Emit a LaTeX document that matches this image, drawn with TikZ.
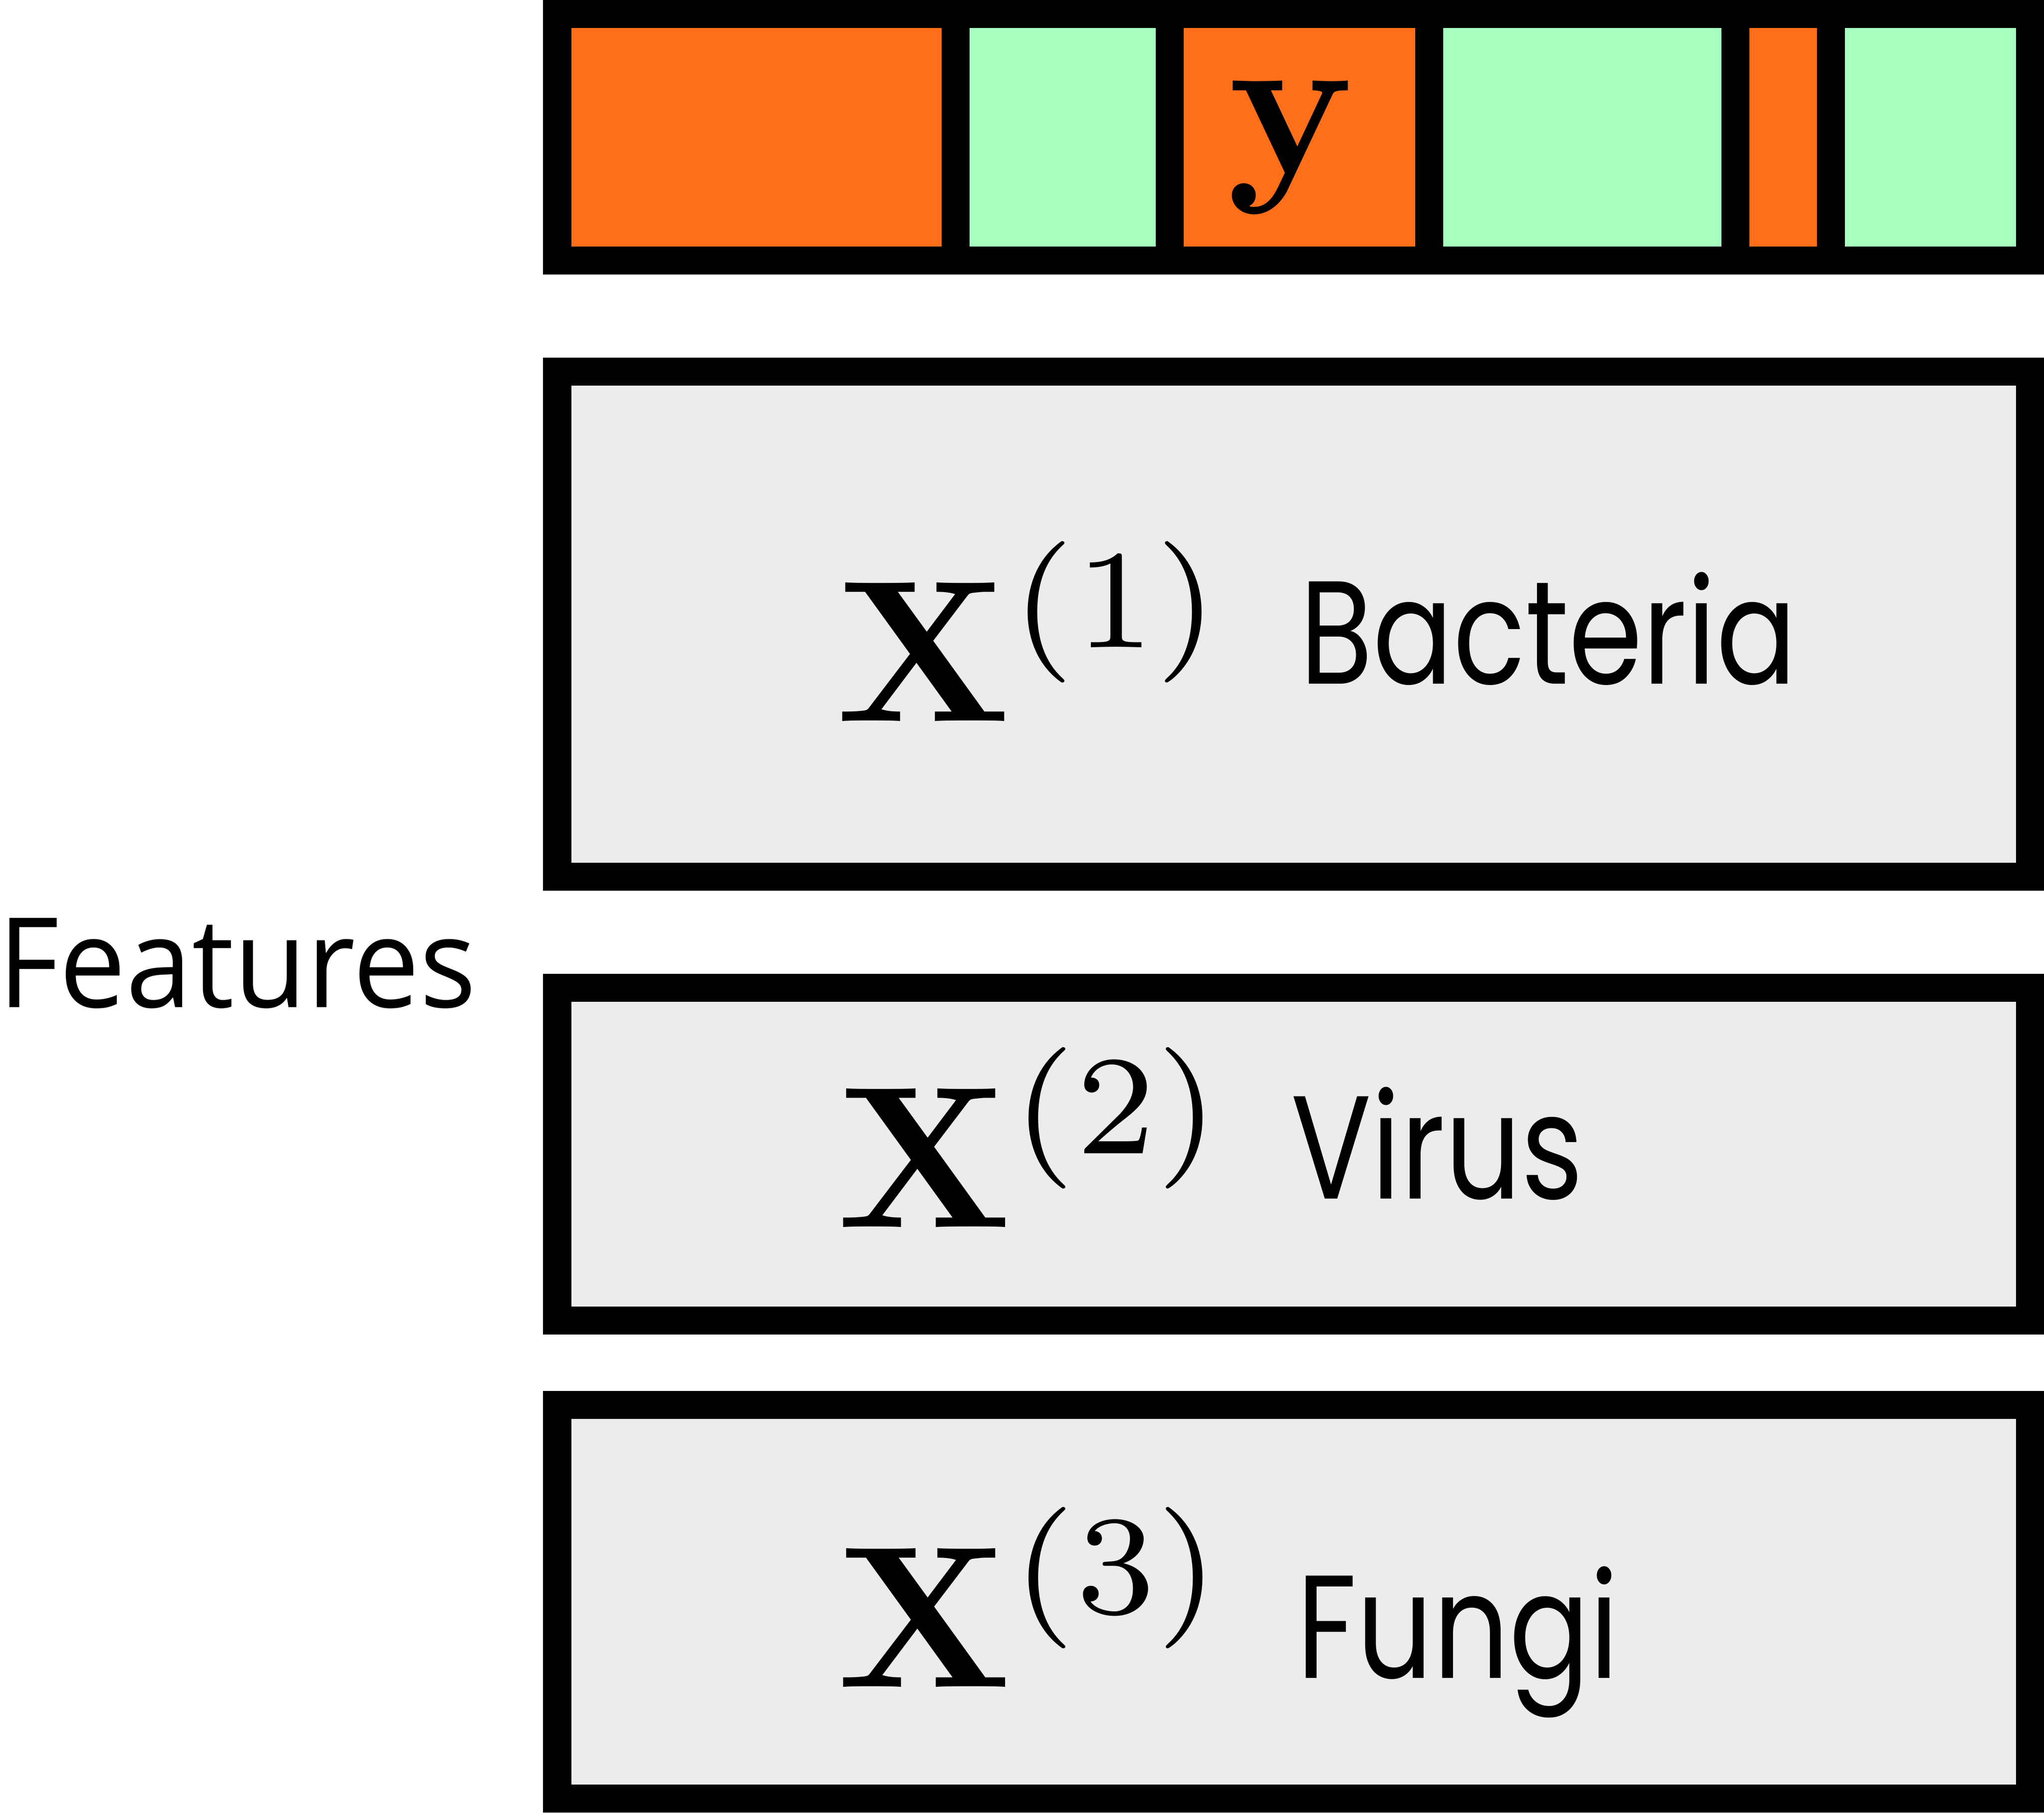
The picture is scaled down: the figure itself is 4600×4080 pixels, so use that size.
\RequirePackage{fix-cm}
\documentclass[tikz,border=0pt]{standalone}
\usepackage[no-math]{fontspec}
\usepackage{graphicx}
\setmainfont{Open Sans}
\newfontfamily\geofont{Poppins}
\definecolor{barorange}{HTML}{FF6F1A}
\definecolor{bargreen}{HTML}{A6FFBE}
\definecolor{boxgray}{HTML}{ECECEC}
\newcommand{\geoname}[1]{\scalebox{0.81}[1]{\geofont #1}}
\newcommand{\sidename}[1]{\scalebox{0.95}[1]{#1}}
\newcommand{\bigmath}[2]{\scalebox{#1}{\fontsize{10}{12}\selectfont$#2$}}
\begin{document}
\begin{tikzpicture}[x=0.01cm,y=-0.01cm,
  frame/.style={draw=black,line width=0.63cm},
  mathlbl/.style={inner sep=0,anchor=base west},
  namelbl/.style={inner sep=0,anchor=base west,font=\fontsize{94}{110}\selectfont},
  sidelbl/.style={inner sep=0,anchor=base west,font=\fontsize{80}{96}\selectfont}]
\useasboundingbox (0,0) rectangle (4600,4080);
% top bar segments
\fill[barorange] (1254,31) rectangle (2150,586);
\fill[bargreen]  (2150,31) rectangle (2632,586);
\fill[barorange] (2632,31) rectangle (3216,586);
\fill[bargreen]  (3216,31) rectangle (3905,586);
\fill[barorange] (3905,31) rectangle (4120,586);
\fill[bargreen]  (4120,31) rectangle (4568,586);
\foreach \xx in {2150,2632,3216,3905,4120}
  \draw[line width=0.63cm] (\xx,31) -- (\xx,586);
\draw[frame] (1254,31) rectangle (4568,586);
\node[inner sep=0,anchor=base] (ylbl) at (2908,389) {\bigmath{13.3}{\mathbf{y}}};
% feature boxes
\draw[frame,fill=boxgray] (1254,836) rectangle (4568,1973);
\draw[frame,fill=boxgray] (1254,2223) rectangle (4568,2972);
\draw[frame,fill=boxgray] (1254,3162) rectangle (4568,4048);
\node[mathlbl] (x1) at (1880,1623) {\bigmath{12.94}{\mathbf{X}^{(1)}}};
\node[mathlbl] (x2) at (1882,2762) {\bigmath{12.94}{\mathbf{X}^{(2)}}};
\node[mathlbl] (x3) at (1882,3797) {\bigmath{12.94}{\mathbf{X}^{(3)}}};
\node[namelbl] (bac) at (2925,1539) {\geoname{Bacteria}};
\node[namelbl] (vir) at (2905,2698) {\geoname{Virus}};
\node[namelbl] (fun) at (2918,3777) {\geoname{Fungi}};
\node[sidelbl] (feat) at (-5,2267) {\sidename{Features}};
\end{tikzpicture}
\end{document}
